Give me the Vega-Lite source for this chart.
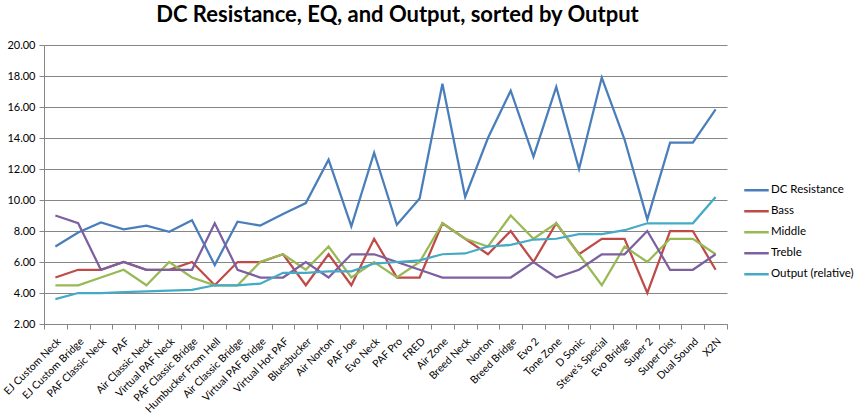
{
  "$schema": "https://vega.github.io/schema/vega-lite/v6.json",
  "width": 683,
  "height": 279,
  "autosize": {"type": "none"},
  "padding": {"left": 44, "top": 45, "right": 127, "bottom": 94},
  "background": "white",
  "config": {
    "font": "Lato",
    "view": {"stroke": null}
  },
  "title": {
    "text": "DC Resistance, EQ, and Output, sorted by Output",
    "font": "Lato",
    "fontSize": 22,
    "fontWeight": "bold",
    "color": "#000000",
    "anchor": "middle",
    "dx": 12,
    "offset": 12
  },
  "datasets": {
    "pickups": [
      {"pickup": "EJ Custom Neck", "series": "DC Resistance", "value": 7.0},
      {"pickup": "EJ Custom Bridge", "series": "DC Resistance", "value": 7.9},
      {"pickup": "PAF Classic Neck", "series": "DC Resistance", "value": 8.55},
      {"pickup": "PAF", "series": "DC Resistance", "value": 8.1},
      {"pickup": "Air Classic Neck", "series": "DC Resistance", "value": 8.35},
      {"pickup": "Virtual PAF Neck", "series": "DC Resistance", "value": 7.95},
      {"pickup": "PAF Classic Bridge", "series": "DC Resistance", "value": 8.7},
      {"pickup": "Humbucker From Hell", "series": "DC Resistance", "value": 5.8},
      {"pickup": "Air Classic Bridge", "series": "DC Resistance", "value": 8.6},
      {"pickup": "Virtual PAF Bridge", "series": "DC Resistance", "value": 8.35},
      {"pickup": "Virtual Hot PAF", "series": "DC Resistance", "value": 9.1},
      {"pickup": "Bluesbucker", "series": "DC Resistance", "value": 9.8},
      {"pickup": "Air Norton", "series": "DC Resistance", "value": 12.6},
      {"pickup": "PAF Joe", "series": "DC Resistance", "value": 8.3},
      {"pickup": "Evo Neck", "series": "DC Resistance", "value": 13.05},
      {"pickup": "PAF Pro", "series": "DC Resistance", "value": 8.4},
      {"pickup": "FRED", "series": "DC Resistance", "value": 10.1},
      {"pickup": "Air Zone", "series": "DC Resistance", "value": 17.5},
      {"pickup": "Breed Neck", "series": "DC Resistance", "value": 10.2},
      {"pickup": "Norton", "series": "DC Resistance", "value": 14.0},
      {"pickup": "Breed Bridge", "series": "DC Resistance", "value": 17.05},
      {"pickup": "Evo 2", "series": "DC Resistance", "value": 12.8},
      {"pickup": "Tone Zone", "series": "DC Resistance", "value": 17.3},
      {"pickup": "D Sonic", "series": "DC Resistance", "value": 12.0},
      {"pickup": "Steve's Special", "series": "DC Resistance", "value": 17.9},
      {"pickup": "Evo Bridge", "series": "DC Resistance", "value": 13.9},
      {"pickup": "Super 2", "series": "DC Resistance", "value": 8.75},
      {"pickup": "Super Dist", "series": "DC Resistance", "value": 13.7},
      {"pickup": "Dual Sound", "series": "DC Resistance", "value": 13.7},
      {"pickup": "X2N", "series": "DC Resistance", "value": 15.85},

      {"pickup": "EJ Custom Neck", "series": "Bass", "value": 5.0},
      {"pickup": "EJ Custom Bridge", "series": "Bass", "value": 5.5},
      {"pickup": "PAF Classic Neck", "series": "Bass", "value": 5.5},
      {"pickup": "PAF", "series": "Bass", "value": 6.0},
      {"pickup": "Air Classic Neck", "series": "Bass", "value": 5.5},
      {"pickup": "Virtual PAF Neck", "series": "Bass", "value": 5.5},
      {"pickup": "PAF Classic Bridge", "series": "Bass", "value": 6.0},
      {"pickup": "Humbucker From Hell", "series": "Bass", "value": 4.5},
      {"pickup": "Air Classic Bridge", "series": "Bass", "value": 6.0},
      {"pickup": "Virtual PAF Bridge", "series": "Bass", "value": 6.0},
      {"pickup": "Virtual Hot PAF", "series": "Bass", "value": 6.5},
      {"pickup": "Bluesbucker", "series": "Bass", "value": 4.5},
      {"pickup": "Air Norton", "series": "Bass", "value": 6.5},
      {"pickup": "PAF Joe", "series": "Bass", "value": 4.5},
      {"pickup": "Evo Neck", "series": "Bass", "value": 7.5},
      {"pickup": "PAF Pro", "series": "Bass", "value": 5.0},
      {"pickup": "FRED", "series": "Bass", "value": 5.0},
      {"pickup": "Air Zone", "series": "Bass", "value": 8.5},
      {"pickup": "Breed Neck", "series": "Bass", "value": 7.5},
      {"pickup": "Norton", "series": "Bass", "value": 6.5},
      {"pickup": "Breed Bridge", "series": "Bass", "value": 8.0},
      {"pickup": "Evo 2", "series": "Bass", "value": 6.0},
      {"pickup": "Tone Zone", "series": "Bass", "value": 8.5},
      {"pickup": "D Sonic", "series": "Bass", "value": 6.5},
      {"pickup": "Steve's Special", "series": "Bass", "value": 7.5},
      {"pickup": "Evo Bridge", "series": "Bass", "value": 7.5},
      {"pickup": "Super 2", "series": "Bass", "value": 4.0},
      {"pickup": "Super Dist", "series": "Bass", "value": 8.0},
      {"pickup": "Dual Sound", "series": "Bass", "value": 8.0},
      {"pickup": "X2N", "series": "Bass", "value": 5.5},

      {"pickup": "EJ Custom Neck", "series": "Middle", "value": 4.5},
      {"pickup": "EJ Custom Bridge", "series": "Middle", "value": 4.5},
      {"pickup": "PAF Classic Neck", "series": "Middle", "value": 5.0},
      {"pickup": "PAF", "series": "Middle", "value": 5.5},
      {"pickup": "Air Classic Neck", "series": "Middle", "value": 4.5},
      {"pickup": "Virtual PAF Neck", "series": "Middle", "value": 6.0},
      {"pickup": "PAF Classic Bridge", "series": "Middle", "value": 5.0},
      {"pickup": "Humbucker From Hell", "series": "Middle", "value": 4.5},
      {"pickup": "Air Classic Bridge", "series": "Middle", "value": 4.5},
      {"pickup": "Virtual PAF Bridge", "series": "Middle", "value": 6.0},
      {"pickup": "Virtual Hot PAF", "series": "Middle", "value": 6.5},
      {"pickup": "Bluesbucker", "series": "Middle", "value": 5.5},
      {"pickup": "Air Norton", "series": "Middle", "value": 7.0},
      {"pickup": "PAF Joe", "series": "Middle", "value": 5.0},
      {"pickup": "Evo Neck", "series": "Middle", "value": 6.0},
      {"pickup": "PAF Pro", "series": "Middle", "value": 5.0},
      {"pickup": "FRED", "series": "Middle", "value": 6.0},
      {"pickup": "Air Zone", "series": "Middle", "value": 8.5},
      {"pickup": "Breed Neck", "series": "Middle", "value": 7.5},
      {"pickup": "Norton", "series": "Middle", "value": 7.0},
      {"pickup": "Breed Bridge", "series": "Middle", "value": 9.0},
      {"pickup": "Evo 2", "series": "Middle", "value": 7.5},
      {"pickup": "Tone Zone", "series": "Middle", "value": 8.5},
      {"pickup": "D Sonic", "series": "Middle", "value": 6.5},
      {"pickup": "Steve's Special", "series": "Middle", "value": 4.5},
      {"pickup": "Evo Bridge", "series": "Middle", "value": 7.0},
      {"pickup": "Super 2", "series": "Middle", "value": 6.0},
      {"pickup": "Super Dist", "series": "Middle", "value": 7.5},
      {"pickup": "Dual Sound", "series": "Middle", "value": 7.5},
      {"pickup": "X2N", "series": "Middle", "value": 6.5},

      {"pickup": "EJ Custom Neck", "series": "Treble", "value": 9.0},
      {"pickup": "EJ Custom Bridge", "series": "Treble", "value": 8.5},
      {"pickup": "PAF Classic Neck", "series": "Treble", "value": 5.5},
      {"pickup": "PAF", "series": "Treble", "value": 6.0},
      {"pickup": "Air Classic Neck", "series": "Treble", "value": 5.5},
      {"pickup": "Virtual PAF Neck", "series": "Treble", "value": 5.5},
      {"pickup": "PAF Classic Bridge", "series": "Treble", "value": 5.5},
      {"pickup": "Humbucker From Hell", "series": "Treble", "value": 8.5},
      {"pickup": "Air Classic Bridge", "series": "Treble", "value": 5.5},
      {"pickup": "Virtual PAF Bridge", "series": "Treble", "value": 5.0},
      {"pickup": "Virtual Hot PAF", "series": "Treble", "value": 5.0},
      {"pickup": "Bluesbucker", "series": "Treble", "value": 6.0},
      {"pickup": "Air Norton", "series": "Treble", "value": 5.0},
      {"pickup": "PAF Joe", "series": "Treble", "value": 6.5},
      {"pickup": "Evo Neck", "series": "Treble", "value": 6.5},
      {"pickup": "PAF Pro", "series": "Treble", "value": 6.0},
      {"pickup": "FRED", "series": "Treble", "value": 5.5},
      {"pickup": "Air Zone", "series": "Treble", "value": 5.0},
      {"pickup": "Breed Neck", "series": "Treble", "value": 5.0},
      {"pickup": "Norton", "series": "Treble", "value": 5.0},
      {"pickup": "Breed Bridge", "series": "Treble", "value": 5.0},
      {"pickup": "Evo 2", "series": "Treble", "value": 6.0},
      {"pickup": "Tone Zone", "series": "Treble", "value": 5.0},
      {"pickup": "D Sonic", "series": "Treble", "value": 5.5},
      {"pickup": "Steve's Special", "series": "Treble", "value": 6.5},
      {"pickup": "Evo Bridge", "series": "Treble", "value": 6.5},
      {"pickup": "Super 2", "series": "Treble", "value": 8.0},
      {"pickup": "Super Dist", "series": "Treble", "value": 5.5},
      {"pickup": "Dual Sound", "series": "Treble", "value": 5.5},
      {"pickup": "X2N", "series": "Treble", "value": 6.5},

      {"pickup": "EJ Custom Neck", "series": "Output (relative)", "value": 3.6},
      {"pickup": "EJ Custom Bridge", "series": "Output (relative)", "value": 4.0},
      {"pickup": "PAF Classic Neck", "series": "Output (relative)", "value": 4.0},
      {"pickup": "PAF", "series": "Output (relative)", "value": 4.05},
      {"pickup": "Air Classic Neck", "series": "Output (relative)", "value": 4.1},
      {"pickup": "Virtual PAF Neck", "series": "Output (relative)", "value": 4.15},
      {"pickup": "PAF Classic Bridge", "series": "Output (relative)", "value": 4.2},
      {"pickup": "Humbucker From Hell", "series": "Output (relative)", "value": 4.5},
      {"pickup": "Air Classic Bridge", "series": "Output (relative)", "value": 4.5},
      {"pickup": "Virtual PAF Bridge", "series": "Output (relative)", "value": 4.6},
      {"pickup": "Virtual Hot PAF", "series": "Output (relative)", "value": 5.3},
      {"pickup": "Bluesbucker", "series": "Output (relative)", "value": 5.3},
      {"pickup": "Air Norton", "series": "Output (relative)", "value": 5.4},
      {"pickup": "PAF Joe", "series": "Output (relative)", "value": 5.4},
      {"pickup": "Evo Neck", "series": "Output (relative)", "value": 5.9},
      {"pickup": "PAF Pro", "series": "Output (relative)", "value": 6.0},
      {"pickup": "FRED", "series": "Output (relative)", "value": 6.1},
      {"pickup": "Air Zone", "series": "Output (relative)", "value": 6.5},
      {"pickup": "Breed Neck", "series": "Output (relative)", "value": 6.55},
      {"pickup": "Norton", "series": "Output (relative)", "value": 7.0},
      {"pickup": "Breed Bridge", "series": "Output (relative)", "value": 7.1},
      {"pickup": "Evo 2", "series": "Output (relative)", "value": 7.45},
      {"pickup": "Tone Zone", "series": "Output (relative)", "value": 7.5},
      {"pickup": "D Sonic", "series": "Output (relative)", "value": 7.8},
      {"pickup": "Steve's Special", "series": "Output (relative)", "value": 7.8},
      {"pickup": "Evo Bridge", "series": "Output (relative)", "value": 8.05},
      {"pickup": "Super 2", "series": "Output (relative)", "value": 8.5},
      {"pickup": "Super Dist", "series": "Output (relative)", "value": 8.5},
      {"pickup": "Dual Sound", "series": "Output (relative)", "value": 8.5},
      {"pickup": "X2N", "series": "Output (relative)", "value": 10.2}
    ]
  },
  "data": {"name": "pickups"},
  "mark": {"type": "line", "strokeWidth": 2.25, "strokeJoin": "miter", "interpolate": "linear"},
  "encoding": {
    "x": {
      "field": "pickup",
      "type": "nominal",
      "sort": null,
      "scale": {"type": "band", "paddingInner": 0, "paddingOuter": 0},
      "axis": {
        "title": null,
        "labelAngle": -45,
        "labelAlign": "right",
        "labelBaseline": "top",
        "labelFont": "Lato",
        "labelFontSize": 10.5,
        "labelColor": "#000000",
        "labelPadding": 7,
        "tickBand": "extent",
        "tickSize": 5,
        "tickColor": "#868686",
        "domainColor": "#868686",
        "grid": false,
        "labelOverlap": false
      }
    },
    "y": {
      "field": "value",
      "type": "quantitative",
      "scale": {"domain": [2, 20], "nice": false, "zero": false},
      "axis": {
        "title": null,
        "values": [2, 4, 6, 8, 10, 12, 14, 16, 18, 20],
        "format": ".2f",
        "labelFont": "Lato",
        "labelFontSize": 11,
        "labelColor": "#000000",
        "labelPadding": 4,
        "tickSize": 5,
        "tickColor": "#868686",
        "domainColor": "#868686",
        "grid": true,
        "gridColor": "#868686",
        "gridWidth": 1
      }
    },
    "color": {
      "field": "series",
      "type": "nominal",
      "sort": ["DC Resistance", "Bass", "Middle", "Treble", "Output (relative)"],
      "scale": {
        "domain": ["DC Resistance", "Bass", "Middle", "Treble", "Output (relative)"],
        "range": ["#4A7EBB", "#BE4B48", "#98B954", "#7D60A0", "#46AAC5"]
      },
      "legend": {
        "title": null,
        "orient": "none",
        "legendX": 699,
        "legendY": 135,
        "symbolType": "stroke",
        "symbolSize": 600,
        "symbolStrokeWidth": 2.5,
        "labelFont": "Lato",
        "labelFontSize": 11.5,
        "labelColor": "#000000",
        "labelOffset": 1,
        "clipHeight": 20.5,
        "rowPadding": 0
      }
    }
  }
}
